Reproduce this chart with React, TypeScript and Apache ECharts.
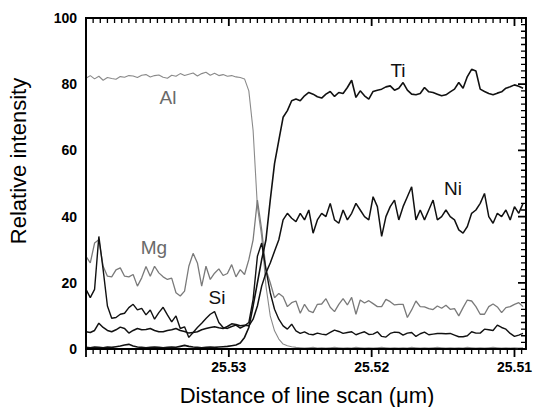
import React, { useEffect, useRef } from "react";
import * as echarts from "echarts";

// Scan grid: samples every 0.0003 µm, starting at 25.540 µm on the left edge
const SCAN_START = 25.54;
const SCAN_STEP = 0.0003;
const SCAN_END = 25.5092;
const X_TICKS = [25.53, 25.52, 25.51];
const X_MINOR_STEP = 0.0005;
const Y_TICKS = [0, 20, 40, 60, 80, 100];
const Y_MINOR_STEP = 2;

const TI = [
  0.5, 0.4, 0.6, 0.5, 0.4, 0.6, 0.5, 0.7, 0.9, 1.2, 1.4, 0.9, 0.6, 0.5, 0.4, 0.5, 0.6, 0.5, 0.4, 0.5,
  0.6, 0.5, 0.8, 1.1, 0.8, 0.6, 0.5, 0.4, 0.5, 0.6, 0.5, 0.6, 0.7, 0.8, 1.0, 1.2,
  1.8, 3.5, 6.5, 13, 20, 27, 33, 45, 56, 63, 70, 72,
  75, 75.5, 75, 76.5, 77.5, 77, 76.2, 75.8, 77, 77.8, 76.3, 77.5, 77.2, 79, 81.2, 76, 78, 76.5, 75.5, 77.8,
  78.2, 78.5, 79.2, 79.5, 78.2, 78.8, 80.5, 78.2, 77, 76.8, 77.2, 79, 77.7, 77.5, 77, 76.5, 76.8, 77.7, 78.5, 80.5,
  78.8, 82.3, 84.5, 84, 78.5, 77.8, 77.2, 76.8, 77.3, 77.7, 78.8, 79.2, 79.8, 79.4, 78.8,
];

const NI = [
  5.2, 5.0, 5.6, 7.8, 6.5, 5.6, 5.2, 5.8, 6.6, 6.2, 4.8, 5.6, 6.2, 5.8, 5.9, 6.2, 5.6, 5.2, 5.2, 5.6,
  5.8, 6.2, 5.6, 5.3, 4.8, 5.0, 5.2, 5.8, 6.2, 6.5, 6.7, 6.4, 6.2, 6.8, 7.6, 7.4, 7.0, 7.2,
  7.0, 9, 13, 19, 23, 26, 29.5, 33, 39, 41,
  39.5, 38.5, 41, 39, 42, 35, 39, 41, 40, 44, 39, 38, 42, 39, 41, 44, 42, 40, 39, 46,
  43, 34, 40, 43, 45, 39, 43, 46, 49, 39, 42, 39, 42, 45, 39, 40, 42, 40, 39, 36,
  35, 37, 41, 42, 44, 47, 40, 38, 41, 40, 42, 39, 43, 41, 44,
];

const SI = [
  18, 15.5, 18, 34, 24, 13, 9.3, 9.5, 10.5, 10.8, 12.5, 13.5, 11.8, 12.3, 10.3, 11.8, 9, 11, 12.6, 10.3,
  8.2, 10, 6.2, 6.7, 3.5, 5, 6.5, 7.8, 9.2, 10.5, 11.3, 8, 6.5, 6.2, 6.8, 7.2, 6.3, 7, 8, 15,
  28, 32, 24, 17, 12, 9, 7, 6, 7.5,
  5.5, 4.7, 5.2, 4.5, 4.3, 4.8, 4.5, 4.3, 5.0, 5.7, 5.3, 4.7, 5.0, 5.2, 4.3, 4.8, 5.2, 4.4, 4.5, 5.2,
  3.8, 3.6, 4.7, 5.1, 5.0, 4.2, 4.8, 5.0, 3.8, 4.6, 5.1, 4.3, 4.5, 4.7, 4.7, 4.6, 4.7, 4.2, 3.7, 3.7,
  4.0, 5.2, 4.8, 4.8, 6.0, 5.8, 5.6, 7.2, 6.5, 6.0, 4.7, 3.8, 4.2, 4.7,
];

const MG = [
  28, 26, 32, 33, 25, 22, 21.8, 23.9, 24.5, 22, 21.8, 22.5, 19, 21.5, 24.9, 22, 25, 23, 21.8, 21,
  21.4, 17, 16, 17.5, 25, 28.9, 26, 19, 25, 21, 22.9, 24.2, 22.2, 22.8, 25.5, 21.8, 24, 22.5, 27, 33,
  45, 36, 24, 20, 15.5, 16.8, 15.8, 12.8, 14, 14.5,
  10.8, 13.5, 11.5, 11, 13.5, 13.6, 15.2, 12.6, 11.3, 13.5, 15.2, 13.3, 15.6, 10.5, 14.8, 13.9, 14.6, 13.7, 12.8, 12.8,
  15, 14.3, 13.3, 13.5, 13.5, 9.5, 11.8, 14.5, 12.8, 12.7, 12.2, 11.9, 13, 12.3, 13.2, 12, 12.2, 10, 12.5, 14.8,
  14.5, 12.8, 10.5, 10.5, 12.8, 13.6, 12.7, 11, 12.5, 12.8, 13.5, 14, 12.8,
];

const AL = [
  81.8, 82.6, 81.6, 82.4, 81.2, 82.0, 81.7, 81.5, 82.3, 82.1, 82.6, 82.5, 82.0, 82.7, 82.9, 82.2, 82.6, 82.8, 82.1, 81.8,
  82.7, 82.4, 83.2, 82.6, 83.0, 83.4, 82.5, 83.2, 83.6, 82.7, 83.3, 82.6, 82.9, 82.4, 82.6, 82.2, 82.0, 81.6,
  78, 66, 43, 34, 19, 10, 5.5, 3, 1.5, 1.0, 0.7, 0.5,
  0.4, 0.3, 0.4, 0.5, 0.3, 0.4, 0.3, 0.4, 0.5, 0.4, 0.3, 0.4, 0.3, 0.5, 0.4, 0.3, 0.4, 0.3, 0.4, 0.5,
  0.4, 0.3, 0.4, 0.3, 0.4, 0.3, 0.5, 0.4, 0.3, 0.4, 0.3, 0.4, 0.5, 0.4, 0.3, 0.4, 0.3, 0.4, 0.3, 0.5,
  0.4, 0.3, 0.4, 0.3, 0.4, 0.5, 0.4, 0.3, 0.4, 0.3, 0.4, 0.3, 0.4,
];

const LABELS = [
  { text: "Al", x: 168, y: 97, color: "#6a6a6a" },
  { text: "Ti", x: 398, y: 70, color: "#111" },
  { text: "Ni", x: 453, y: 188, color: "#111" },
  { text: "Mg", x: 154, y: 247, color: "#6a6a6a" },
  { text: "Si", x: 217, y: 297, color: "#111" },
];

const FONT = "'Liberation Sans', Arial, Helvetica, sans-serif";

// axis runs in "offset from scan start" units (0.001 µm)
const toOffset = (um: number) => Math.round((SCAN_START - um) * 100000) / 100;
const pts = (vals: number[]) =>
  vals.map((v, i) => [toOffset(SCAN_START - i * SCAN_STEP), v]);

export default function App() {
  const ref = useRef<HTMLDivElement>(null);
  useEffect(() => {
    document.body.style.margin = "0";
    const chart = echarts.init(ref.current!, undefined, { renderer: "svg" });
    const xMax = toOffset(SCAN_END);
    const majorVals = X_TICKS.map(toOffset);
    const yMin = Y_TICKS[0];
    const yMax = Y_TICKS[Y_TICKS.length - 1];
    const axisLine = { show: true, onZero: false, lineStyle: { color: "#000", width: 1.6 } };
    const fmt = (v: number) => {
      const idx = majorVals.findIndex((m) => Math.abs(m - v) < 1e-6);
      return idx >= 0 ? X_TICKS[idx].toFixed(2) : "";
    };
    const xAxisDef = (position: string, labels: boolean) => ({
      type: "value",
      position,
      min: 0,
      max: xMax,
      interval: 10,
      splitLine: { show: false },
      axisLine,
      axisTick: { show: false },
      axisLabel: labels
        ? { show: true, formatter: fmt, color: "#000", fontWeight: "bold", fontSize: 14, fontFamily: FONT, margin: 11 }
        : { show: false },
    });
    const yAxisDef = (position: string, labels: boolean) => ({
      type: "value",
      position,
      min: yMin,
      max: yMax,
      interval: 20,
      splitLine: { show: false },
      axisLine,
      axisTick: { show: false },
      axisLabel: labels
        ? { show: true, color: "#000", fontWeight: "bold", fontSize: 14, fontFamily: FONT, margin: 9 }
        : { show: false },
    });
    const lineSeries = (name: string, data: number[], color: string, width: number) => ({
      name,
      type: "line",
      data: pts(data),
      showSymbol: false,
      symbol: "none",
      lineStyle: { color, width },
      xAxisIndex: 0,
      yAxisIndex: 0,
      z: 3,
    });

    // Tick comb: one continuous polyline per tick class, running along the frame
    // and stepping out/in at every tick position (data units, through the axis scales).
    const pxPerX = 446 / xMax; // approximate, only to size tick length in data units
    const pxPerY = 331 / (yMax - yMin);
    const minorX = Math.round(X_MINOR_STEP * 1000 * 100) / 100;
    const xTickVals: number[] = [];
    for (let k = 0; k * minorX <= xMax + 1e-9; k++) xTickVals.push(Math.round(k * minorX * 100) / 100);
    const yTickVals: number[] = [];
    for (let v = yMin; v <= yMax + 1e-9; v += Y_MINOR_STEP) yTickVals.push(v);
    const isMajorX = (v: number) => Math.abs(v / 10 - Math.round(v / 10)) < 1e-6;
    const isMajorY = (v: number) => v % 20 === 0;

    const comb = (major: boolean) => {
      const lenPx = major ? 8 : 5;
      const dy = lenPx / pxPerY;
      const dx = lenPx / pxPerX;
      const bottom: (number | null)[][] = [];
      const top: (number | null)[][] = [];
      const left: (number | null)[][] = [];
      const right: (number | null)[][] = [];
      xTickVals.filter((v) => isMajorX(v) === major).forEach((v) => {
        bottom.push([v, yMin], [v, yMin - dy], [v, yMin]);
        top.push([v, yMax], [v, yMax - dy], [v, yMax]);
      });
      yTickVals.filter((v) => isMajorY(v) === major).forEach((v) => {
        left.push([0, v], [-dx, v], [0, v]);
        right.push([xMax, v], [xMax - dx, v], [xMax, v]);
      });
      const w = major ? 1.8 : 1.3;
      return [bottom, top, left, right].map((d, i) => ({
        name: `ticks-${major ? "major" : "minor"}-${i}`,
        type: "line",
        data: d,
        showSymbol: false,
        symbol: "none",
        clip: false,
        silent: true,
        xAxisIndex: 0,
        yAxisIndex: 0,
        z: 9,
        lineStyle: { color: "#000", width: w, cap: "butt", join: "miter" },
      }));
    };

    chart.setOption({
      animation: false,
      grid: { left: 86, right: 3, top: 18, bottom: 58 },
      xAxis: [xAxisDef("bottom", true), xAxisDef("top", false)],
      yAxis: [yAxisDef("left", true), yAxisDef("right", false)],
      series: [
        lineSeries("Al", AL, "#8a8a8a", 1.1),
        lineSeries("Mg", MG, "#7a7a7a", 1.3),
        lineSeries("Si", SI, "#111", 1.4),
        lineSeries("Ni", NI, "#111", 1.5),
        lineSeries("Ti", TI, "#111", 1.6),
        ...comb(true),
        ...comb(false),
      ],
      graphic: [
        ...LABELS.map((l) => ({
          type: "text",
          x: l.x,
          y: l.y,
          style: { text: l.text, fill: l.color, font: `19px ${FONT}`, textAlign: "center", textVerticalAlign: "middle" },
        })),
        {
          type: "text",
          x: 307,
          y: 395,
          style: {
            text: "Distance of line scan (μm)",
            fill: "#000",
            font: `22px ${FONT}`,
            textAlign: "center",
            textVerticalAlign: "middle",
          },
        },
        {
          type: "text",
          x: 18,
          y: 161,
          rotation: Math.PI / 2,
          style: {
            text: "Relative intensity",
            fill: "#000",
            font: `22px ${FONT}`,
            textAlign: "center",
            textVerticalAlign: "middle",
          },
        },
      ],
    });
    return () => chart.dispose();
  }, []);
  return <div ref={ref} style={{ width: 535, height: 407 }} />;
}
